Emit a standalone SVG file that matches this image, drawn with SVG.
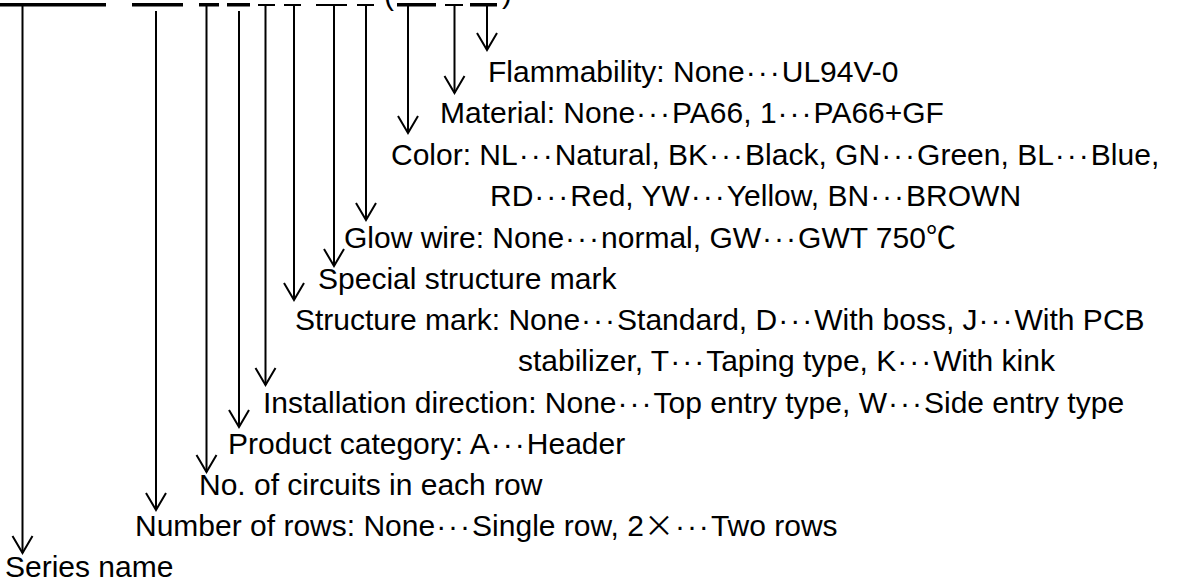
<svg xmlns="http://www.w3.org/2000/svg" width="1182" height="584" viewBox="0 0 1182 584">
<style>
text{font-family:"Liberation Sans",Arial,sans-serif;font-size:30px;fill:#000}
.e{letter-spacing:2px}
.c{font-family:"Noto Sans CJK SC","DejaVu Sans",sans-serif}
.ul{stroke:#000;stroke-width:3.5}
.ut{stroke:#000;stroke-width:2}
.ar{stroke:#000;stroke-width:2;fill:none;marker-end:url(#v)}
</style>
<defs>
<marker id="v" markerUnits="userSpaceOnUse" markerWidth="40" markerHeight="40" refX="0" refY="0" orient="auto" overflow="visible">
<path d="M-17,-10 L0,0 L-17,10" fill="none" stroke="#000" stroke-width="2"/>
</marker>
</defs>
<rect width="1182" height="584" fill="#fff"/>
<g id="code">
<line class="ul" x1="0" y1="4.75" x2="106" y2="4.75"/>
<line class="ul" x1="132" y1="4.75" x2="183" y2="4.75"/>
<line class="ul" x1="199" y1="4.75" x2="219" y2="4.75"/>
<line class="ul" x1="227" y1="4.75" x2="250" y2="4.75"/>
<line class="ut" x1="258" y1="5" x2="275" y2="5"/>
<line class="ut" x1="284" y1="5" x2="301" y2="5"/>
<line class="ut" x1="316" y1="5" x2="347" y2="5"/>
<line class="ut" x1="357" y1="5" x2="374" y2="5"/>
<text x="384" y="5">(</text>
<line class="ul" x1="397" y1="4.75" x2="436" y2="4.75"/>
<line class="ut" x1="445" y1="5" x2="463" y2="5"/>
<line class="ul" x1="470" y1="4.75" x2="497" y2="4.75"/>
<text x="502" y="3">)</text>
</g>
<g id="connectors">
<line class="ar" x1="22.5" y1="6" x2="22.5" y2="553"/>
<line class="ar" x1="156" y1="11" x2="156" y2="510"/>
<line class="ar" x1="206.5" y1="6" x2="206.5" y2="472"/>
<line class="ar" x1="239" y1="11" x2="239" y2="427"/>
<line class="ar" x1="265.5" y1="6" x2="265.5" y2="385"/>
<line class="ar" x1="294" y1="6" x2="294" y2="300"/>
<line class="ar" x1="334" y1="6" x2="334" y2="266"/>
<line class="ar" x1="366" y1="6" x2="366" y2="220"/>
<line class="ar" x1="408" y1="6" x2="408" y2="133"/>
<line class="ar" x1="454.5" y1="6" x2="454.5" y2="93"/>
<line class="ar" x1="487" y1="6" x2="487" y2="50"/>
</g>
<g id="flammability"><text x="488" y="82">Flammability: None<tspan class="e" dx="1">···</tspan>UL94V-0</text></g>
<g id="material"><text x="440" y="123">Material: None<tspan class="e" dx="1">···</tspan>PA66, 1<tspan class="e" dx="1">···</tspan>PA66+GF</text></g>
<g id="color">
<text x="391" y="165">Color: NL<tspan class="e" dx="1">···</tspan>Natural, BK<tspan class="e" dx="1">···</tspan>Black, GN<tspan class="e" dx="1">···</tspan>Green, BL<tspan class="e" dx="1">···</tspan>Blue,</text>
<text x="490" y="206">RD<tspan class="e" dx="1">···</tspan>Red, YW<tspan class="e" dx="1">···</tspan>Yellow, BN<tspan class="e" dx="1">···</tspan>BROWN</text>
</g>
<g id="glow-wire"><text x="344" y="248">Glow wire: None<tspan class="e" dx="1">···</tspan>normal, GW<tspan class="e" dx="1">···</tspan>GWT 750<tspan class="c">℃</tspan></text></g>
<g id="special-structure"><text x="318" y="289">Special structure mark</text></g>
<g id="structure-mark">
<text x="295" y="330">Structure mark: None<tspan class="e" dx="1">···</tspan>Standard, D<tspan class="e" dx="1">···</tspan>With boss, J<tspan class="e" dx="1">···</tspan>With PCB</text>
<text x="518" y="371">stabilizer, T<tspan class="e" dx="1">···</tspan>Taping type, K<tspan class="e" dx="1">···</tspan>With kink</text>
</g>
<g id="installation"><text x="263" y="413">Installation direction: None<tspan class="e" dx="1">···</tspan>Top entry type, W<tspan class="e" dx="1">···</tspan>Side entry type</text></g>
<g id="product-category"><text x="228" y="454">Product category: A<tspan class="e" dx="1">···</tspan>Header</text></g>
<g id="circuits"><text x="199" y="495">No. of circuits in each row</text></g>
<g id="rows"><text x="135" y="536">Number of rows: None<tspan class="e" dx="1">···</tspan>Single row, 2<tspan class="c">×</tspan><tspan class="e" dx="1">···</tspan>Two rows</text></g>
<g id="series"><text x="5" y="577">Series name</text></g>
</svg>
